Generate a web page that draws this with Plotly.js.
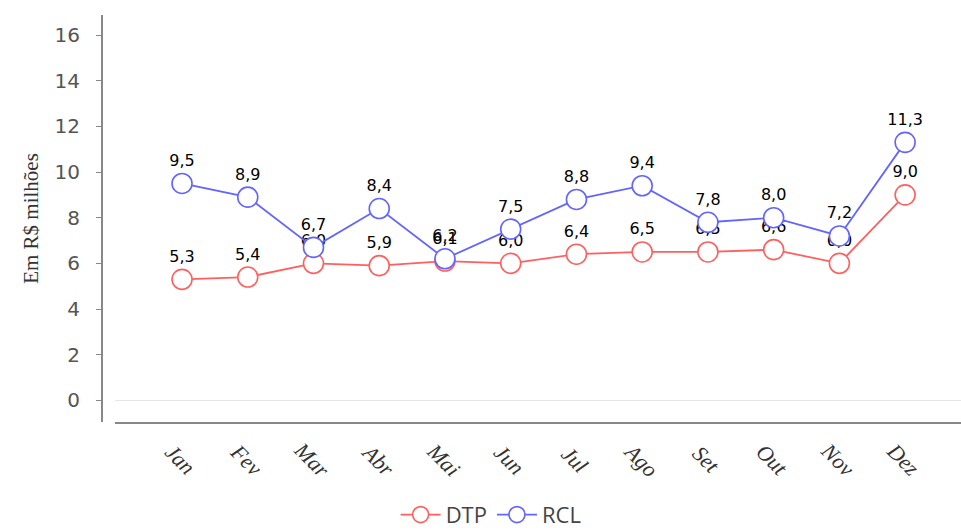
<!DOCTYPE html>
<html>
<head>
<meta charset="utf-8">
<script src="https://cdn.plot.ly/plotly-3.0.1.min.js"></script>
<style>html,body{margin:0;padding:0;background:#fff;}#chart{width:961px;height:532px;}</style>
</head>
<body>
<div id="chart"></div>
<script>
const months = ["Jan","Fev","Mar","Abr","Mai","Jun","Jul","Ago","Set","Out","Nov","Dez"];
const dtp = [5.3, 5.4, 6.0, 5.9, 6.1, 6.0, 6.4, 6.5, 6.5, 6.6, 6.0, 9.0];
const rcl = [9.5, 8.9, 6.7, 8.4, 6.2, 7.5, 8.8, 9.4, 7.8, 8.0, 7.2, 11.3];
const yTicks = [0, 2, 4, 6, 8, 10, 12, 14, 16];

const fmt = v => v.toFixed(1).replace('.', ',');
const xs = months.map((m, i) => i);

function series(name, vals, color) {
  return {
    type: 'scatter', mode: 'lines+markers+text', name: name,
    x: xs, y: vals,
    text: vals.map(fmt), textposition: 'top center',
    textfont: {family: 'DejaVu Sans', size: 16, color: '#000'},
    line: {color: color, width: 1.8},
    marker: {symbol: 'circle', size: 20, color: '#ffffff', line: {color: color, width: 1.6}},
    cliponaxis: false
  };
}

const data = [series('DTP', dtp, '#ff5f5f'), series('RCL', rcl, '#6464ff')];

const tickAnnots = months.map((m, i) => ({
  x: i, xref: 'x', y: -0.093, yref: 'paper',
  text: m, showarrow: false, textangle: 45,
  xanchor: 'center', yanchor: 'middle', xshift: -2,
  font: {family: 'Liberation Serif', size: 22, color: '#333', style: 'italic'}
}));

const layout = {
  width: 961, height: 532,
  margin: {l: 102, r: 0, t: 15, b: 110, autoexpand: false},
  paper_bgcolor: '#fff', plot_bgcolor: '#fff',
  showlegend: true,
  legend: {orientation: 'h', x: 0.453, xanchor: 'center', y: -0.228, yanchor: 'middle',
           font: {family: 'Open Sans', size: 22, color: '#444'}, itemwidth: 40},
  annotations: tickAnnots,
  xaxis: {
    domain: [0.0151, 1],
    range: [-1.02, 11.85],
    tickmode: 'array', tickvals: xs, ticktext: months,
    showticklabels: false,
    showgrid: false, zeroline: false,
    showline: true, linecolor: '#888', linewidth: 2,
    ticks: ''
  },
  yaxis: {
    anchor: 'free', position: 0,
    range: [-0.95, 16.88],
    tickmode: 'array', tickvals: yTicks,
    tickfont: {family: 'DejaVu Sans', size: 20, color: '#555'},
    ticklabelstandoff: 12,
    showgrid: false, zeroline: true, zerolinecolor: '#e6e6e6', zerolinewidth: 1,
    showline: true, linecolor: '#888', linewidth: 2,
    ticks: 'outside', ticklen: 5, tickcolor: '#888',
    title: {text: 'Em R$ milhões', font: {family: 'Liberation Serif', size: 21, color: '#333'}, standoff: 9}
  }
};

Plotly.newPlot('chart', data, layout, {displayModeBar: false, staticPlot: true});
</script>
</body>
</html>
